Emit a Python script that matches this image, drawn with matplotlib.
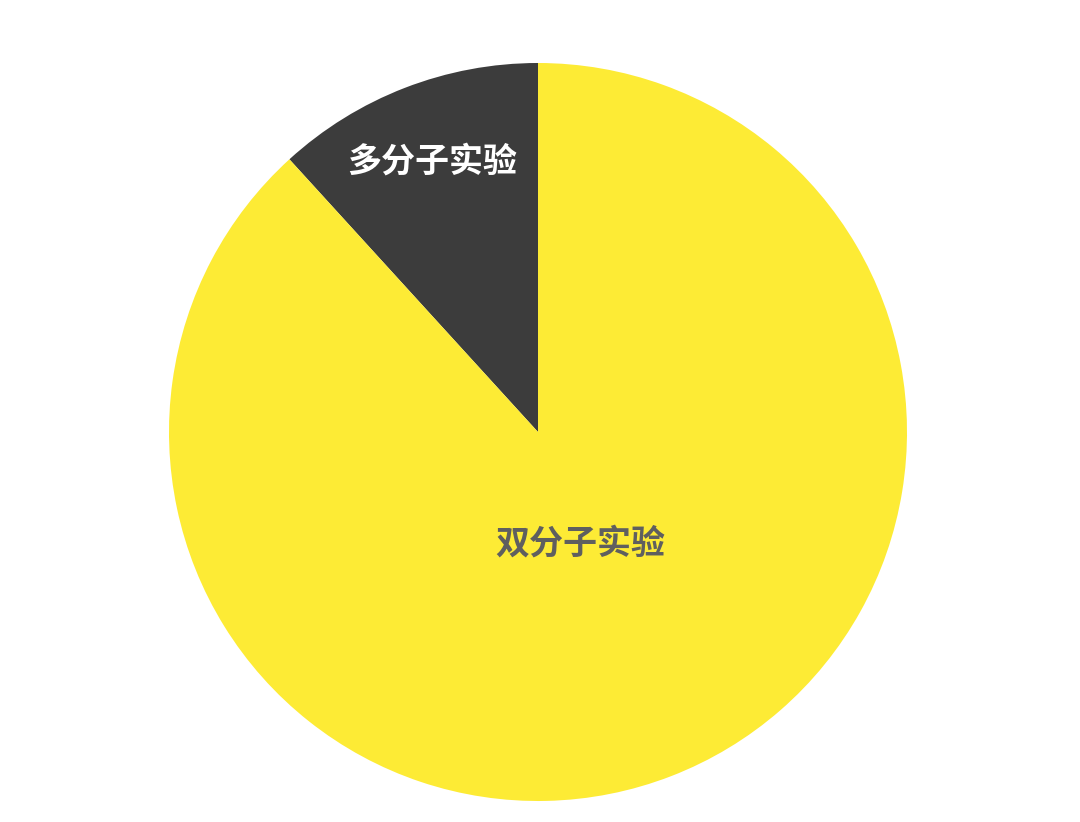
import numpy as np
import matplotlib
matplotlib.use('Agg')
import matplotlib.pyplot as plt

plt.rcParams['font.family'] = ['Noto Sans CJK SC', 'DejaVu Sans']

labels = ['多分子实验', '双分子实验']
values = [2, 15]
colors = ['#3c3c3c', '#fdeb35']
text_colors = ['#ffffff', '#5f5f5f']
label_r = [0.795, 0.315]

fig = plt.figure(figsize=(10.8, 8.22), dpi=100)
W, H = 1080, 822
cx, cy, r = 538, 432, 369
ax = fig.add_axes([(cx - r) / W, (H - cy - r) / H, 2 * r / W, 2 * r / H])

wedges, _ = ax.pie(values, colors=colors, startangle=90, counterclock=True,
                   radius=1, wedgeprops=dict(linewidth=0))
ax.set_xlim(-1, 1)
ax.set_ylim(-1, 1)
ax.set_aspect('auto')
ax.axis('off')

for w, lab, tc, lr in zip(wedges, labels, text_colors, label_r):
    mid = np.deg2rad((w.theta1 + w.theta2) / 2)
    ax.text(lr * np.cos(mid), lr * np.sin(mid) - 0.008, lab, color=tc,
            fontsize=24.5, fontweight='bold', ha='center', va='center')

fig.savefig('out.png', dpi=100)
